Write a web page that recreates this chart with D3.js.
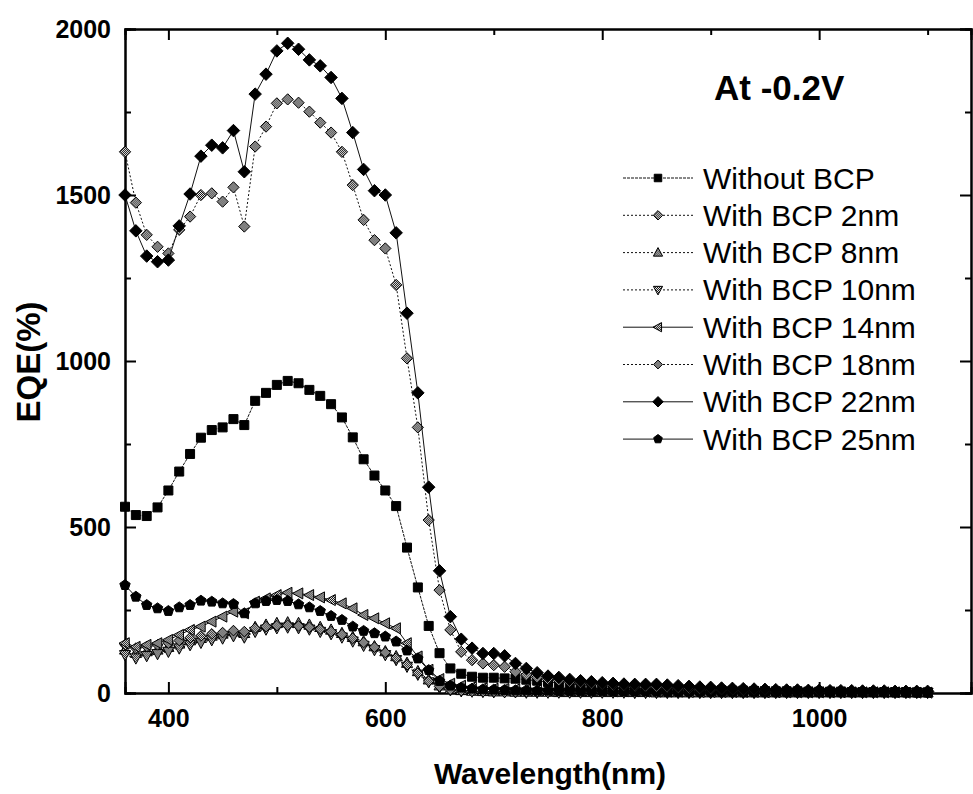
<!DOCTYPE html>
<html>
<head>
<meta charset="utf-8">
<script src="https://cdn.jsdelivr.net/npm/d3@7"></script>
<style>
  body {margin:0; background:#fff;}
  svg {display:block; font-family:"Liberation Sans", Arial, sans-serif;}
</style>
</head>
<body>
<svg id="chart" width="973" height="794"></svg>
<script>
// wavelengths (nm)
const wl = [360,370,380,390,400,410,420,430,440,450,460,470,480,490,500,510,520,530,540,550,
  560,570,580,590,600,610,620,630,640,650,660,670,680,690,700,710,720,730,740,750,
  760,770,780,790,800,810,820,830,840,850,860,870,880,890,900,910,920,930,940,950,
  960,970,980,990,1000,1010,1020,1030,1040,1050,1060,1070,1080,1090,1100];

const noBCP = [561,536,533,559,610, 667,720,769,792,800, 825,807,880,904,928, 940,933,913,895,870,
  830,770,704,655,610, 563,438,318,202,120, 74,58,49,46,46, 44,43,40,37,33,
  30,27,25,22,20, 18,16,15,14,13, 12,11,10,9,8, 8,7,7,6,6,
  5,5,5,4,4, 4,4,3,3,3, 3,3,3,2,2];
const bcp2 = [1630,1477,1380,1344,1324, 1395,1435,1500,1505,1480, 1523,1405,1646,1706,1776, 1788,1778,1751,1718,1688,
  1630,1530,1425,1364,1339, 1229,1008,800,521,310, 190,124,99,89,84, 79,64,54,47,42,
  38,34,31,28,26, 24,22,21,20,19, 18,16,15,13,12, 11,10,9,8,8,
  7,7,6,6,6, 5,5,5,5,4, 4,4,4,4,3];
const bcp8 = [130,120,125,130,138, 148,158,165,172,178, 185,180,198,205,210, 212,210,205,198,190,
  180,168,155,140,125, 110,90,65,40,22, 12,8,6,5,4, 4,3,3,3,3,
  2,2,2,2,2, 2,2,2,2,1, 1,1,1,1,1, 1,1,1,1,1,
  1,1,1,1,1, 1,1,1,1,1, 1,1,1,1,1];
const bcp10 = [115,105,112,118,125, 135,145,152,160,165, 172,168,185,192,196, 198,196,192,185,178,
  168,156,143,130,115, 100,80,56,33,17, 9,6,5,4,3, 3,3,2,2,2,
  2,2,2,2,2, 2,2,1,1,1, 1,1,1,1,1, 1,1,1,1,1,
  1,1,1,1,1, 1,1,1,1,1, 1,1,1,1,1];
const bcp14 = [150,139,145,150,160, 175,190,200,215,230, 245,240,275,285,295, 302,300,295,288,280,
  270,255,235,225,210, 195,150,110,70,42, 28,22,18,15,13, 12,11,10,9,8,
  8,7,7,6,6, 5,5,5,4,4, 4,4,3,3,3, 3,3,3,3,2,
  2,2,2,2,2, 2,2,2,2,2, 2,2,1,1,1];
const bcp18 = [145,135,140,145,150, 158,166,172,178,182, 188,185,195,200,203, 204,202,198,192,185,
  176,165,152,138,122, 105,85,60,36,20, 10,7,5,4,4, 3,3,3,3,2,
  2,2,2,2,2, 2,2,2,2,2, 2,2,1,1,1, 1,1,1,1,1,
  1,1,1,1,1, 1,1,1,1,1, 1,1,1,1,1];
const bcp22 = [1500,1392,1316,1299,1304, 1407,1503,1617,1650,1642, 1694,1570,1804,1864,1934, 1957,1939,1907,1889,1854,
  1791,1688,1577,1513,1500, 1386,1144,904,620,368, 230,162,135,119,119, 112,89,74,61,51,
  47,41,37,34,31, 29,27,26,26,26, 24,22,20,18,17, 15,14,13,12,11,
  10,9,9,8,8, 7,7,7,6,6, 6,5,5,5,5];
const bcp25 = [325,290,265,255,247, 258,265,278,275,270, 268,240,270,277,280, 277,267,258,247,232,
  220,200,187,180,170, 155,128,104,69,36, 22,16,13,11,10, 9,8,8,7,7,
  6,6,5,5,5, 4,4,4,4,4, 3,3,3,3,3, 3,3,2,2,2,
  2,2,2,2,2, 2,2,2,2,2, 2,1,1,1,1];

const names = ['Without BCP','With BCP 2nm','With BCP 8nm','With BCP 10nm',
               'With BCP 14nm','With BCP 18nm','With BCP 22nm','With BCP 25nm'];
const xMajor = [400,600,800,1000], xMinor = [500,700,900,1100];
const yMajor = [0,500,1000,1500,2000], yMinor = [250,750,1250,1750];

// marker shapes as d3 symbol types
function poly(pts) {
  return {draw: function(ctx, size) {
    const r = Math.sqrt(size) / 2;
    pts.forEach(function(p, i) { i ? ctx.lineTo(p[0]*r, p[1]*r) : ctx.moveTo(p[0]*r, p[1]*r); });
    ctx.closePath();
  }};
}
const shp = {
  square: poly([[-1,-1],[1,-1],[1,1],[-1,1]]),
  diamond: poly([[0,-1.25],[1.25,0],[0,1.25],[-1.25,0]]),
  triUp: poly([[0,-1.2],[1.1,0.85],[-1.1,0.85]]),
  triDown: poly([[0,1.2],[1.1,-0.85],[-1.1,-0.85]]),
  triLeft: poly([[-1.2,0],[0.85,-1.1],[0.85,1.1]]),
  pent: poly(d3.range(5).map(function(i) {
    const a = -Math.PI/2 + i*2*Math.PI/5; return [1.15*Math.cos(a), 1.15*Math.sin(a)]; }))
};

const series = [
  {v:bcp8,  n:2, s:shp.triUp,   sz:100, fill:'url(#chk)', dash:'2,2'},
  {v:bcp10, n:3, s:shp.triDown, sz:100, fill:'url(#chk)', dash:'2,2'},
  {v:bcp18, n:5, s:shp.diamond, sz:72,  fill:'url(#chk)', dash:'2,2'},
  {v:bcp14, n:4, s:shp.triLeft, sz:100, fill:'url(#chk)', dash:null},
  {v:bcp25, n:7, s:shp.pent,    sz:90,  fill:'#000',      dash:null},
  {v:noBCP, n:0, s:shp.square,  sz:81,  fill:'#000',      dash:'3,1'},
  {v:bcp2,  n:1, s:shp.diamond, sz:81,  fill:'url(#chk)', dash:'2,2'},
  {v:bcp22, n:6, s:shp.diamond, sz:100, fill:'#000',      dash:null}
];

const L = 125, R = 971, T = 29, B = 693;
const x = d3.scaleLinear().domain([360,1140]).range([L,R]);
const y = d3.scaleLinear().domain([0,2000]).range([B,T]);

const svg = d3.select('#chart');
const pat = svg.append('defs').append('pattern').attr('id','chk')
  .attr('width',2).attr('height',2).attr('patternUnits','userSpaceOnUse');
pat.append('rect').attr('width',2).attr('height',2).attr('fill','#fff');
pat.append('rect').attr('width',1).attr('height',1).attr('fill','#000');
pat.append('rect').attr('x',1).attr('y',1).attr('width',1).attr('height',1).attr('fill','#000');

// axes (ticks point inward)
function styleAxis(g, lab) {
  g.select('.domain').attr('stroke','#000').attr('stroke-width',2);
  g.selectAll('.tick line').attr('stroke','#000').attr('stroke-width',2);
  g.selectAll('.tick text').attr('fill','#000').style('font-weight','bold').style('font-size','25px');
  if (!lab) g.selectAll('.tick text').remove();
}
svg.append('g').attr('transform','translate(0,'+B+')')
  .call(d3.axisBottom(x).tickValues(xMajor).tickSize(-11).tickPadding(16).tickFormat(d3.format('d')))
  .call(styleAxis, true);
svg.append('g').attr('transform','translate(0,'+B+')')
  .call(d3.axisBottom(x).tickValues(xMinor).tickSize(-6)).call(styleAxis, false);
svg.append('g').attr('transform','translate(0,'+T+')')
  .call(d3.axisTop(x).tickValues(xMajor).tickSize(-11)).call(styleAxis, false);
svg.append('g').attr('transform','translate(0,'+T+')')
  .call(d3.axisTop(x).tickValues(xMinor).tickSize(-6)).call(styleAxis, false);
svg.append('g').attr('transform','translate('+L+',0)')
  .call(d3.axisLeft(y).tickValues(yMajor).tickSize(-11).tickPadding(14).tickFormat(d3.format('d')))
  .call(styleAxis, true);
svg.append('g').attr('transform','translate('+L+',0)')
  .call(d3.axisLeft(y).tickValues(yMinor).tickSize(-6)).call(styleAxis, false);
svg.append('g').attr('transform','translate('+R+',0)')
  .call(d3.axisRight(y).tickValues(yMajor).tickSize(-11)).call(styleAxis, false);
svg.append('g').attr('transform','translate('+R+',0)')
  .call(d3.axisRight(y).tickValues(yMinor).tickSize(-6)).call(styleAxis, false);

// curves
const line = d3.line().x(function(d) {return x(d[0]);}).y(function(d) {return y(d[1]);});
series.forEach(function(s) {
  const data = wl.map(function(w, i) {return [w, s.v[i]];});
  svg.append('path').datum(data).attr('d', line)
    .attr('fill','none').attr('stroke','#111').attr('stroke-width',1)
    .attr('stroke-dasharray', s.dash);
  svg.append('g').selectAll('path').data(data).join('path')
    .attr('transform', function(d) {return 'translate('+x(d[0])+','+y(d[1])+')';})
    .attr('d', d3.symbol().type(s.s).size(s.sz))
    .attr('fill', s.fill).attr('stroke','#000').attr('stroke-width',1);
});

// legend
const lg = svg.append('g');
series.slice().sort(function(a,b) {return a.n-b.n;}).forEach(function(s) {
  const ly = 178 + s.n*37.3;
  lg.append('line').attr('x1',623).attr('x2',693).attr('y1',ly).attr('y2',ly)
    .attr('stroke','#111').attr('stroke-width',1).attr('stroke-dasharray', s.dash);
  lg.append('path').attr('transform','translate(658,'+ly+')')
    .attr('d', d3.symbol().type(s.s).size(s.sz*0.7))
    .attr('fill', s.fill).attr('stroke','#000').attr('stroke-width',1);
  lg.append('text').attr('x',703).attr('y',ly+10.5).text(names[s.n])
    .style('font-size','30px').attr('fill','#000');
});

svg.append('text').attr('x',714).attr('y',100).text('At -0.2V')
  .style('font-size','35px').style('font-weight','bold');
svg.append('text').attr('x',550).attr('y',784).attr('text-anchor','middle')
  .text('Wavelength(nm)').style('font-size','30px').style('font-weight','bold');
svg.append('text').attr('transform','translate(40,362) rotate(-90)').attr('text-anchor','middle')
  .text('EQE(%)').style('font-size','33px').style('font-weight','bold');
</script>
</body>
</html>
